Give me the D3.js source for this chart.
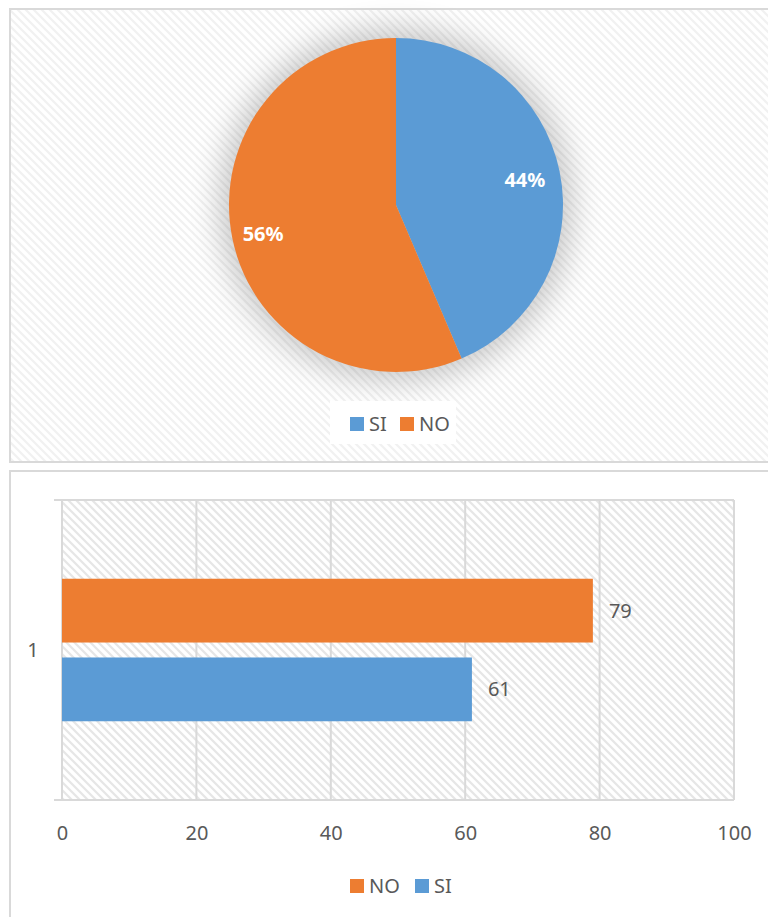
<!DOCTYPE html>
<html>
<head>
<meta charset="utf-8">
<script src="https://cdn.jsdelivr.net/npm/d3@7"></script>
<style>
  html, body { margin: 0; padding: 0; background: #fff; }
  svg { display: block; font-family: "Noto Sans", "Open Sans", sans-serif; }
</style>
</head>
<body>
<svg id="chart" width="768" height="917"></svg>
<script>
// Survey answers
const categories = ["SI", "NO"];
const counts = [61, 79];
const barCategory = ["1"];
const barSeries = ["NO", "SI"];
const barValues = [79, 61];
const xTicks = [0, 20, 40, 60, 80, 100];
const colors = { SI: "#5b9bd5", NO: "#ed7d31" };

const svg = d3.select("#chart");
const defs = svg.append("defs");
const textColor = "#595959";
const lineColor = "#d9d9d9";

// Diagonal hatch fills
function hatch(id, stroke) {
  const p = defs.append("pattern")
    .attr("id", id).attr("patternUnits", "userSpaceOnUse")
    .attr("width", 8).attr("height", 8);
  p.append("rect").attr("width", 8).attr("height", 8).attr("fill", "#fff");
  p.append("path")
    .attr("d", "M-2,-2 L10,10 M-2,6 L2,10 M6,-2 L10,2")
    .attr("stroke", stroke).attr("stroke-width", 2.2);
}
hatch("hatchLight", "#f1f1f1");
hatch("hatchPlot", "#e6e6e6");

const blur = defs.append("filter").attr("id", "pieShadow")
  .attr("x", "-40%").attr("y", "-40%").attr("width", "180%").attr("height", "180%");
blur.append("feGaussianBlur").attr("stdDeviation", 15);

// ---------- Pie panel ----------
svg.append("rect")
  .attr("x", 10).attr("y", 9).attr("width", 770).attr("height", 453)
  .attr("fill", "url(#hatchLight)").attr("stroke", lineColor).attr("stroke-width", 2);

const cx = 396, cy = 205, r = 167;
const pieG = svg.append("g").attr("transform", `translate(${cx},${cy})`);
pieG.append("circle").attr("r", r + 10)
  .attr("fill", "#000").attr("opacity", 0.2).attr("filter", "url(#pieShadow)");

const pie = d3.pie().sort(null).value(d => d.v);
const pieData = pie(categories.map((c, i) => ({ c, v: counts[i] })));
const arc = d3.arc().innerRadius(0).outerRadius(r);
pieG.selectAll("path.slice").data(pieData).join("path")
  .attr("class", "slice")
  .attr("d", arc)
  .attr("fill", d => colors[d.data.c]);

const total = d3.sum(counts);
const labelArc = d3.arc().innerRadius(r * 0.8).outerRadius(r * 0.8);
pieG.selectAll("text.pct").data(pieData).join("text")
  .attr("class", "pct")
  .attr("transform", d => {
    const [x, y] = labelArc.centroid(d);
    return `translate(${x - 2},${y + 2})`;
  })
  .attr("text-anchor", "middle").attr("dy", "0.35em")
  .attr("fill", "#fff").attr("font-weight", "bold").attr("font-size", 20)
  .text(d => d3.format(".0%")(d.data.v / total));

// Pie legend
const leg1 = svg.append("g");
leg1.append("rect").attr("x", 330).attr("y", 401).attr("width", 126).attr("height", 43).attr("fill", "#fff");
const leg1Items = [{ c: "SI", x: 350 }, { c: "NO", x: 400 }];
leg1Items.forEach(it => {
  leg1.append("rect").attr("x", it.x).attr("y", 417).attr("width", 14).attr("height", 14).attr("fill", colors[it.c]);
  leg1.append("text").attr("x", it.x + 19).attr("y", 431)
    .attr("font-size", 20).attr("fill", textColor).text(it.c);
});

// ---------- Bar panel ----------
svg.append("rect")
  .attr("x", 10).attr("y", 471).attr("width", 770).attr("height", 460)
  .attr("fill", "#fff").attr("stroke", lineColor).attr("stroke-width", 2);

const plot = { left: 62, right: 734, top: 500, bottom: 800 };
const x = d3.scaleLinear().domain([0, 100]).range([plot.left, plot.right]);
const yCat = d3.scaleBand().domain(barCategory).range([plot.top, plot.bottom]);
const ySer = d3.scaleBand().domain(barSeries).range([0, yCat.bandwidth()])
  .paddingInner(0.19).paddingOuter(1.0);

svg.append("rect")
  .attr("x", plot.left).attr("y", plot.top)
  .attr("width", plot.right - plot.left).attr("height", plot.bottom - plot.top)
  .attr("fill", "url(#hatchPlot)");

// vertical gridlines
svg.append("g").selectAll("line").data(xTicks).join("line")
  .attr("x1", d => x(d)).attr("x2", d => x(d))
  .attr("y1", plot.top).attr("y2", plot.bottom)
  .attr("stroke", lineColor).attr("stroke-width", 2);

// category axis boundaries with outside ticks
[plot.top, plot.bottom].forEach(yv => {
  svg.append("line").attr("x1", plot.left - 8).attr("x2", plot.right)
    .attr("y1", yv).attr("y2", yv)
    .attr("stroke", lineColor).attr("stroke-width", 2);
});

// x axis labels
const xAxis = d3.axisBottom(x).tickValues(xTicks).tickSize(0).tickPadding(0);
const xg = svg.append("g").attr("transform", `translate(0,${plot.bottom})`).call(xAxis);
xg.select(".domain").remove();
xg.selectAll("text")
  .attr("y", 40).attr("dy", 0)
  .attr("font-size", 20).attr("fill", textColor)
  .attr("font-family", "Noto Sans, Open Sans, sans-serif");

// category label
const yAxis = d3.axisLeft(yCat).tickSize(0).tickPadding(0);
const yg = svg.append("g").attr("transform", `translate(${plot.left},0)`).call(yAxis);
yg.select(".domain").remove();
yg.selectAll("text")
  .attr("x", -29).attr("dy", "0.35em").attr("text-anchor", "middle")
  .attr("font-size", 20).attr("fill", textColor)
  .attr("font-family", "Noto Sans, Open Sans, sans-serif");

// bars
const barData = barSeries.map((s, i) => ({ s, v: barValues[i], cat: barCategory[0] }));
svg.append("g").selectAll("rect").data(barData).join("rect")
  .attr("x", x(0))
  .attr("y", d => yCat(d.cat) + ySer(d.s))
  .attr("width", d => x(d.v) - x(0))
  .attr("height", ySer.bandwidth())
  .attr("fill", d => colors[d.s]);

svg.append("g").selectAll("text").data(barData).join("text")
  .attr("x", d => x(d.v) + 16)
  .attr("y", d => yCat(d.cat) + ySer(d.s) + ySer.bandwidth() / 2)
  .attr("dy", "0.35em")
  .attr("font-size", 20).attr("fill", textColor)
  .text(d => d.v);

// bar legend
const leg2Items = [{ c: "NO", x: 350 }, { c: "SI", x: 415 }];
leg2Items.forEach(it => {
  svg.append("rect").attr("x", it.x).attr("y", 879).attr("width", 14).attr("height", 14).attr("fill", colors[it.c]);
  svg.append("text").attr("x", it.x + 19).attr("y", 893)
    .attr("font-size", 20).attr("fill", textColor).text(it.c);
});
</script>
</body>
</html>
